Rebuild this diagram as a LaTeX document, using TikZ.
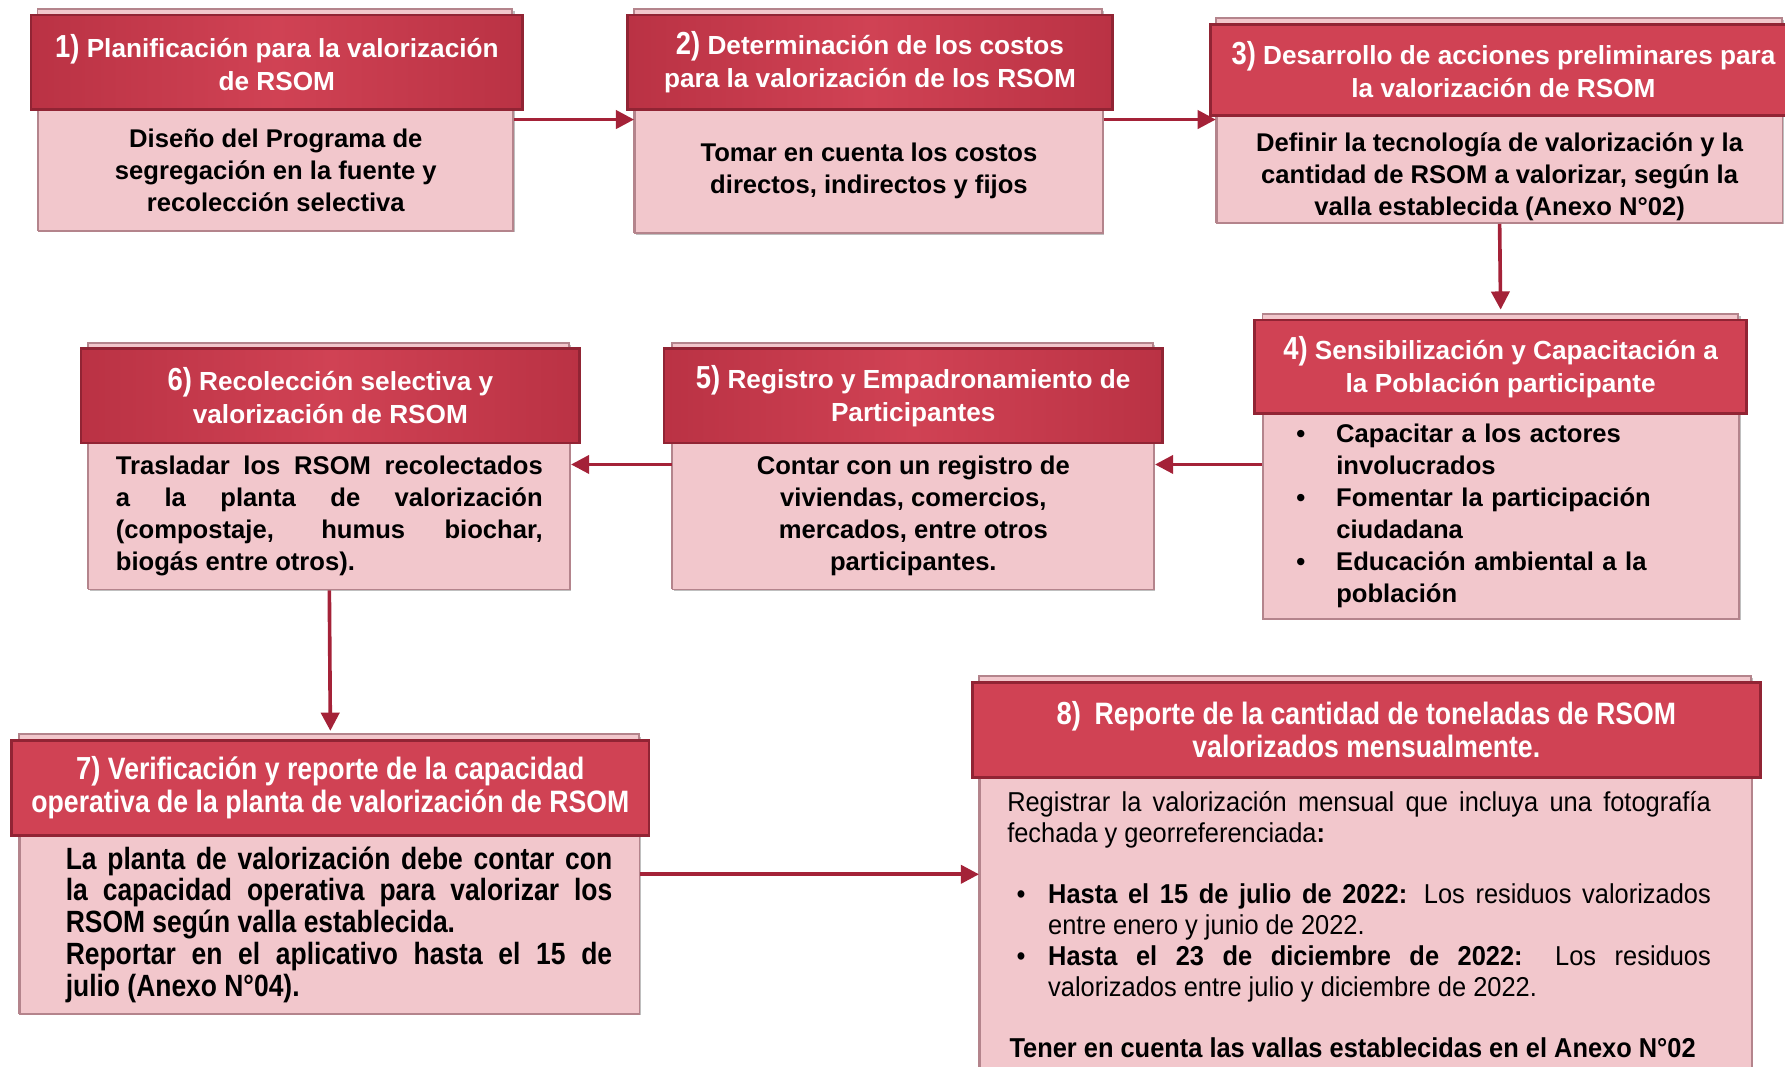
\documentclass[tikz,border=0pt]{standalone}
\usepackage{fontspec}
\setmainfont{Liberation Sans}
\newfontfamily\cnd[FakeStretch=0.86]{Liberation Sans}
\newfontfamily\cndw[FakeStretch=0.93]{Liberation Sans}
\usetikzlibrary{arrows.meta,shadows,calc}
\definecolor{hdrfill}{RGB}{208,66,84}
\definecolor{hdredge}{RGB}{186,50,68}
\definecolor{hdrborder}{RGB}{145,36,52}
\definecolor{bodyfill}{RGB}{242,199,204}
\definecolor{bodyborder}{RGB}{180,132,140}
\definecolor{arrowred}{RGB}{164,34,56}
\hyphenpenalty=10000
\exhyphenpenalty=10000
\newcommand\myhdrfont{\bfseries\fontsize{23}{29}\selectfont}
\newcommand\mybodyfont{\bfseries\fontsize{22.5}{28.2}\selectfont}
\newcommand\stepnum[1]{{\cnd\fontsize{28}{29}\selectfont #1}}
\newcommand\shiftpar[1]{\leftskip=#1\rightskip=-#1\relax}
\tikzset{
 hdr/.style={draw=hdrborder, line width=2.4pt, fill=hdrfill, text=white, align=center, inner sep=0pt, anchor=north west, font=\myhdrfont},
 hdrgrad/.style={hdr, left color=hdredge, right color=hdredge, middle color=hdrfill},
 bdy/.style={draw=bodyborder, line width=1.6pt, fill=bodyfill, inner sep=0pt, anchor=north west, font=\mybodyfont, align=center},
 back/.style={draw=bodyborder, line width=1.6pt, fill=bodyfill, drop shadow={shadow xshift=2pt, shadow yshift=-2pt, fill=black, opacity=0.25}},
 arr/.style={draw=arrowred, line width=3.2pt, -{Triangle[length=16pt,width=16pt]}},
}
\begin{document}
\begin{tikzpicture}[x=1pt,y=-1pt]
\useasboundingbox (0,0) rectangle (1568,937);

% Box 1
\path[back] (33,8) rectangle (450,202);
\node[bdy, minimum width=417pt, minimum height=107pt] (b1) at (33,95)
 {Diseño del Programa de\\segregación en la fuente y\\recolección selectiva};
\node[hdrgrad, minimum width=432pt, minimum height=83pt] (h1) at (26,12)
 {\stepnum{1)} Planificación para la valorización\\de RSOM};

% Box 2
\path[back] (557,8) rectangle (968,204);
\node[bdy, minimum width=411pt, minimum height=109pt] (b2) at (557,95)
 {Tomar en cuenta los costos\\directos, indirectos y fijos};
\node[hdrgrad, minimum width=426pt, minimum height=83pt] (h2) at (550,12)
 {\stepnum{2)} Determinación de los costos\\para la valorización de los RSOM};

% Box 3
\path[back] (1068,16) rectangle (1565,195);
\node[bdy, minimum width=497pt, minimum height=95pt] (b3) at (1068,100)
 {\rule{0pt}{30pt}Definir la tecnología de valorización y la\\cantidad de RSOM a valorizar, según la\\valla establecida (Anexo N°02)};
\node[hdr, minimum width=515pt, minimum height=80pt] (h3) at (1062,20)
 {\stepnum{3)} Desarrollo de acciones preliminares para\\la valorización de RSOM};

% Box 4
\path[back] (1109,276) rectangle (1527,543);
\node[bdy, minimum width=418pt, minimum height=181pt, inner xsep=29pt, text width=360pt, align=left] (b4) at (1109,362)
 {\makebox[35pt][l]{\textbullet}Capacitar a los actores\\
  \hspace*{35pt}involucrados\\
  \makebox[35pt][l]{\textbullet}Fomentar la participación\\
  \hspace*{35pt}ciudadana\\
  \makebox[35pt][l]{\textbullet}Educación ambiental a la\\
  \hspace*{35pt}población};
\node[hdr, minimum width=432pt, minimum height=82pt] (h4) at (1101,280)
 {\stepnum{4)} Sensibilización y Capacitación a\\la Población participante};

% Box 5
\path[back] (590,301) rectangle (1013,517);
\node[bdy, minimum width=423pt, minimum height=129pt] (b5) at (590,388)
 {Contar con un registro de\\viviendas, comercios,\\mercados, entre otros\\participantes.};
\node[hdrgrad, minimum width=438pt, minimum height=83pt] (h5) at (582,305)
 {\stepnum{5)} Registro y Empadronamiento de\\Participantes};

% Box 6
\path[back] (77,301) rectangle (500,517);
\node[bdy, minimum width=423pt, minimum height=129pt, inner xsep=24pt, text width=375pt, align=justify] (b6) at (77,388)
 {Trasladar los RSOM recolectados\linebreak a la planta de valorización\linebreak (compostaje, humus biochar,\linebreak biogás entre otros).};
\node[hdrgrad, minimum width=438pt, minimum height=83pt] (h6) at (70,305)
 {\stepnum{6)} Recolección selectiva y\\valorización de RSOM};

% Box 7
\path[back] (17,645) rectangle (561,890);
\node[bdy, minimum width=544pt, minimum height=157pt, inner xsep=32pt, text width=480pt, align=justify,
  font=\cnd\bfseries\fontsize{27}{28}\selectfont] (b7) at (17,733)
 {\shiftpar{8pt}La planta de valorización debe contar con\linebreak la capacidad operativa para valorizar los\linebreak RSOM según valla establecida.\hspace*{\fill}\linebreak Reportar en el aplicativo hasta el 15 de\linebreak julio (Anexo N°04).\par};
\node[hdr, minimum width=560pt, minimum height=84pt, font=\cnd\bfseries\fontsize{27.2}{29}\selectfont] (h7) at (9,649)
 {\stepnum{7)} Verificación y reporte de la capacidad\\operativa de la planta de valorización de RSOM};

% Box 8
\path[back] (860,594) rectangle (1538,960);
\node[bdy, minimum width=678pt, minimum height=259pt, inner xsep=30pt, text width=618pt, align=justify,
  font=\cndw\fontsize{24}{27}\selectfont] (b8) at (860,682)
 {\shiftpar{-6pt}Registrar la valorización mensual que incluya una fotografía\linebreak fechada y georreferenciada\textbf{:}\par\vspace{27pt}
  \hangindent=36pt\hangafter=0\noindent\shiftpar{-6pt}\llap{\textbullet\hspace{20pt}}\textbf{Hasta el 15 de julio de 2022:} Los residuos valorizados\linebreak entre enero y junio de 2022.\par
  \hangindent=36pt\hangafter=0\noindent\shiftpar{-6pt}\llap{\textbullet\hspace{20pt}}\textbf{Hasta el 23 de diciembre de 2022:} Los residuos\linebreak valorizados entre julio y diciembre de 2022.\par\vspace{27pt}
  \noindent\hspace*{-4pt}\textbf{Tener en cuenta las vallas establecidas en el Anexo N°02}};
\node[hdr, minimum width=692pt, minimum height=84pt, font=\cnd\bfseries\fontsize{27.2}{29}\selectfont] (h8) at (853,598)
 {\stepnum{8)}\hspace{12pt}Reporte de la cantidad de toneladas de RSOM\\valorizados mensualmente.};

% Connectors
\draw[arr] ([yshift=-10pt]b1.north east) -- ([yshift=-10pt]b1.north east -| b2.west);
\draw[arr] ([yshift=-10pt]b2.north east) -- ([yshift=-10pt]b2.north east -| b3.west);
\draw[arr] (b3.south) -- ([yshift=8pt]h4.north);
\draw[arr] ([yshift=-46pt]b4.north west) -- ([yshift=-46pt]b4.north west -| b5.east);
\draw[arr] ([yshift=-20pt]b5.north west) -- ([yshift=-20pt]b5.north west -| b6.east);
\draw[arr] (b6.south) -- ([yshift=7pt]h7.north);
\draw[arr] ([yshift=-35pt]b7.north east) -- ([yshift=-35pt]b7.north east -| b8.west);
\end{tikzpicture}
\end{document}
